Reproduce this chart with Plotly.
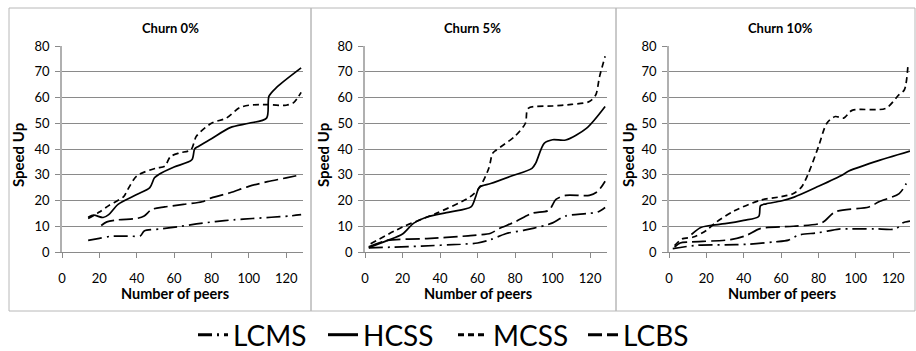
import plotly.graph_objects as go

W, H = 916, 351

# ---------------- data ----------------
panel_titles = ["Churn 0%", "Churn 5%", "Churn 10%"]
series_names = ["LCMS", "HCSS", "MCSS", "LCBS"]

# Churn 0%
lcms0_x = [14, 20, 26, 35, 42, 44, 52, 62, 72, 82, 92, 102, 112, 122, 128]
lcms0_y = [4.5, 5.3, 6.1, 6.2, 6.3, 8.2, 8.9, 9.8, 10.9, 11.8, 12.5, 13.0, 13.5, 14.0, 14.5]
hcss0_x = [14, 17, 22, 25, 30, 40, 47, 49.5, 52, 60, 69.5, 71, 73, 80, 90, 100, 109.5, 110.8, 115, 128]
hcss0_y = [13.5, 14.3, 13.4, 14.5, 18.5, 22.3, 25, 28.8, 30.2, 33, 35.8, 40, 41, 44, 48.3, 50, 52, 60.5, 64, 71.5]
mcss0_x = [14, 20, 25, 33, 35, 40, 50, 55, 58, 63, 69, 72, 80, 88, 95, 100, 110, 120, 124, 128]
mcss0_y = [13, 15.5, 18, 21.5, 24, 29.5, 32.5, 33.3, 37, 38.5, 39.7, 45, 50, 52, 56, 57, 57.2, 57, 58, 62]
lcbs0_x = [21, 24, 30, 40, 44, 48, 55, 65, 75, 80, 90, 100, 110, 120, 128]
lcbs0_y = [10.3, 11.7, 12.5, 13, 14, 16.5, 17.5, 18.5, 19.5, 21, 23, 25.5, 27.3, 28.8, 30]

# Churn 5%
lcms5_x = [2, 15, 30, 51, 60, 67, 75, 85, 96, 100, 107, 118, 124, 128]
lcms5_y = [1.6, 1.9, 2.3, 3.0, 3.5, 4.8, 7.1, 8.5, 10.3, 11.3, 14.0, 14.9, 15.5, 17.3]
hcss5_x = [2, 12, 20, 26, 33, 45, 56.5, 59, 61, 67, 78, 89, 91, 95.5, 100, 107, 118, 128]
hcss5_y = [1.7, 4.5, 7, 11.2, 13.6, 15.5, 17.5, 21.5, 25.2, 26.6, 29.5, 32.5, 34.5, 42.2, 43.6, 43.5, 48, 56.5]
mcss5_x = [3, 20, 38, 56, 61, 66, 68, 70, 80, 85.5, 87, 100, 110, 119.6, 123, 125, 128]
mcss5_y = [3.2, 9.7, 15, 21.4, 25, 32.5, 38.3, 39.6, 45, 50, 55.8, 56.7, 57.3, 58.4, 61, 68, 76]
lcbs5_x = [2, 12, 33, 55, 67, 71.5, 80, 89, 98, 101.8, 107, 119.6, 124, 128]
lcbs5_y = [2, 4.5, 5.2, 6.3, 7.3, 9.1, 11.7, 15, 16.2, 20.4, 22, 22, 23.5, 27.5]

# Churn 10%
lcms10_x = [2, 15, 30, 42, 56, 64, 69, 80, 91, 96, 110, 121.5, 125, 129]
lcms10_y = [1.3, 2.6, 2.8, 3.0, 3.9, 4.6, 6.5, 7.5, 8.9, 9.0, 9.0, 9.0, 11.3, 12]
hcss10_x = [12, 17, 22, 30, 40, 48, 49, 52, 60, 67, 80, 93, 95.5, 110, 129]
hcss10_y = [6.8, 9.5, 10.3, 11, 12.3, 13.8, 18, 18.7, 19.8, 21.3, 25.5, 30, 31.2, 35, 39.2]
mcss10_x = [3, 7, 13, 20, 25.5, 35, 48.8, 60, 66.6, 71, 74.6, 80, 84.5, 89, 93.5, 98, 116, 123, 126, 128]
mcss10_y = [2.5, 5.1, 5.8, 8.4, 11.7, 16, 20.1, 21.5, 22.7, 25.3, 30.5, 40.9, 50, 52.6, 52, 55, 55.8, 61, 63, 73.4]
lcbs10_x = [3, 6, 11, 33, 41.6, 48.8, 66.6, 81.8, 89, 107, 112.4, 123.2, 127]
lcbs10_y = [1.9, 3.5, 3.9, 4.8, 6.5, 9.1, 10, 11.3, 15.6, 17.5, 19.5, 22.7, 26.6]

y_tick_vals = [0, 10, 20, 30, 40, 50, 60, 70, 80]
x_tick_vals = [0, 20, 40, 60, 80, 100, 120]

panels = [
    {"LCMS": (lcms0_x, lcms0_y), "HCSS": (hcss0_x, hcss0_y), "MCSS": (mcss0_x, mcss0_y), "LCBS": (lcbs0_x, lcbs0_y)},
    {"LCMS": (lcms5_x, lcms5_y), "HCSS": (hcss5_x, hcss5_y), "MCSS": (mcss5_x, mcss5_y), "LCBS": (lcbs5_x, lcbs5_y)},
    {"LCMS": (lcms10_x, lcms10_y), "HCSS": (hcss10_x, hcss10_y), "MCSS": (mcss10_x, mcss10_y), "LCBS": (lcbs10_x, lcbs10_y)},
]

# ---------------- style ----------------
dashes = {"LCMS": "14px,5px,2px,5px", "HCSS": "solid", "MCSS": "6px,4px", "LCBS": "14px,5px"}
FONT = "Lato, 'Open Sans', sans-serif"
GRID = "#8a8a8a"

# pixel geometry
plot_x = [(62, 303), (365, 607), (669, 910)]
plot_y = (46, 252)           # top, bottom in px
title_cx = [170, 473, 780]
xtitle_cx = [175, 478, 782]
ytitle_cx = [18, 323, 628]
boxes = [(9, 311), (311, 616), (616, 915)]

def px(x):
    return x / W

def py(y):
    return 1 - y / H

fig = go.Figure()

for i, pdata in enumerate(panels):
    xa = "x" if i == 0 else f"x{i+1}"
    ya = "y" if i == 0 else f"y{i+1}"
    for name in series_names:
        xs, ys = pdata[name]
        fig.add_trace(go.Scatter(
            x=xs, y=ys, mode="lines", name=name, showlegend=False,
            line=dict(color="black", width=1.7, dash=dashes[name], shape="spline", smoothing=0.8),
            xaxis=xa, yaxis=ya, hoverinfo="skip"))

# legend entries (thicker symbols)
for name in series_names:
    fig.add_trace(go.Scatter(
        x=[None], y=[None], mode="lines", name=name, showlegend=True,
        line=dict(color="black", width=3, dash=dashes[name])))

layout = dict(
    width=W, height=H,
    margin=dict(l=0, r=0, t=0, b=0, autoexpand=False),
    paper_bgcolor="white", plot_bgcolor="white",
    font=dict(family=FONT, size=13, color="black"),
    showlegend=True,
    legend=dict(orientation="h", x=px(193), xanchor="left", xref="container",
                y=py(335), yanchor="middle", yref="container",
                font=dict(family=FONT, size=28, color="black"),
                entrywidth=85, entrywidthmode="pixels", bgcolor="rgba(0,0,0,0)"),
)

for i in range(3):
    xk = "xaxis" if i == 0 else f"xaxis{i+1}"
    yk = "yaxis" if i == 0 else f"yaxis{i+1}"
    x0, x1 = plot_x[i]
    layout[xk] = dict(
        domain=[px(x0), px(x1)], range=[0, 129], tickvals=x_tick_vals,
        showgrid=False, zeroline=False, showline=True, linecolor=GRID, linewidth=1,
        ticks="outside", ticklen=5, tickcolor=GRID, ticklabelstandoff=9,
        tickfont=dict(size=13, family=FONT, color="black"),
        anchor="y" if i == 0 else f"y{i+1}", fixedrange=True)
    layout[yk] = dict(
        domain=[py(plot_y[1]), py(plot_y[0])], range=[0, 80], tickvals=y_tick_vals,
        showgrid=True, gridcolor=GRID, gridwidth=1, zeroline=False,
        showline=True, linecolor="#b0b0b0", linewidth=1.5,
        ticks="outside", ticklen=5, tickcolor=GRID, ticklabelstandoff=3,
        tickfont=dict(size=13, family=FONT, color="black"),
        anchor="x" if i == 0 else f"x{i+1}", fixedrange=True)

fig.update_layout(**layout)

annotations = []
shapes = []
for i in range(3):
    annotations.append(dict(text=f"<b>{panel_titles[i]}</b>", x=px(title_cx[i]), y=py(28),
                            xref="paper", yref="paper", showarrow=False,
                            font=dict(size=13, family=FONT, color="black"),
                            xanchor="center", yanchor="middle"))
    annotations.append(dict(text="<b>Number of peers</b>", x=px(xtitle_cx[i]), y=py(293),
                            xref="paper", yref="paper", showarrow=False,
                            font=dict(size=14.5, family=FONT, color="black"),
                            xanchor="center", yanchor="middle"))
    annotations.append(dict(text="<b>Speed Up</b>", x=px(ytitle_cx[i]), y=py(155),
                            xref="paper", yref="paper", showarrow=False, textangle=-90,
                            font=dict(size=15, family=FONT, color="black"),
                            xanchor="center", yanchor="middle"))
    b0, b1 = boxes[i]
    shapes.append(dict(type="rect", xref="paper", yref="paper",
                       x0=px(b0), x1=px(b1), y0=py(311), y1=py(8),
                       line=dict(color="#b8b8b8", width=1), fillcolor="rgba(0,0,0,0)", layer="below"))

fig.update_layout(annotations=annotations, shapes=shapes)

fig.write_html("out.html", config={"displayModeBar": False},
               post_script="document.body.style.margin='0';document.body.style.overflow='hidden';")
